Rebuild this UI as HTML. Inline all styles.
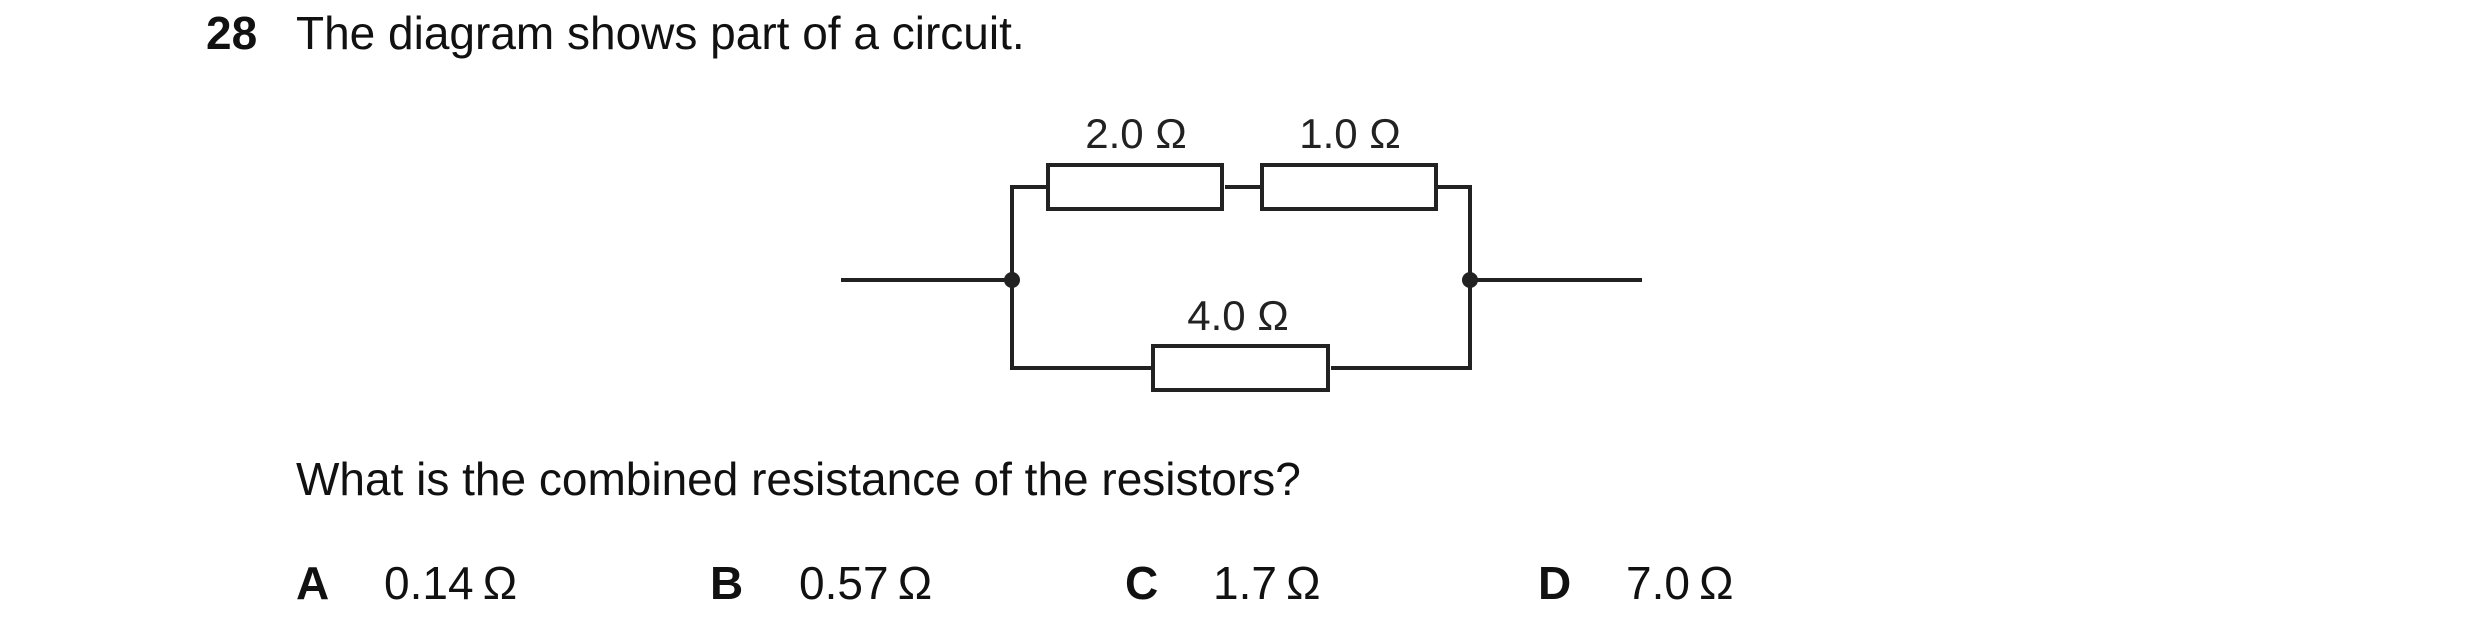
<!DOCTYPE html>
<html><head><meta charset="utf-8"><style>
html,body{margin:0;padding:0;background:#fff;}
body{width:2480px;height:633px;position:relative;overflow:hidden;font-family:"Liberation Sans",Arial,sans-serif;color:#111;}
.t{position:absolute;font-size:46px;line-height:1;white-space:nowrap;}
.b{font-weight:bold;}
svg{position:absolute;left:0;top:0;}
</style></head><body>
<div class="t b" style="left:206px;top:10px;">28</div>
<div class="t" style="left:296px;top:10px;">The diagram shows part of a circuit.</div>
<svg width="2480" height="633" viewBox="0 0 2480 633">
<g stroke="#222" stroke-width="4" fill="none">
<line x1="841" y1="280" x2="1012" y2="280"/>
<line x1="1470" y1="280" x2="1642" y2="280"/>
<polyline points="1048,187 1012,187 1012,368 1153,368"/>
<polyline points="1438,187 1470,187 1470,368 1331,368"/>
<line x1="1225" y1="187" x2="1262" y2="187"/>
<rect x="1048" y="165" width="174" height="44" fill="#fff"/>
<rect x="1262" y="165" width="174" height="44" fill="#fff"/>
<rect x="1153" y="346" width="175" height="44" fill="#fff"/>
</g>
<circle cx="1012" cy="280" r="8" fill="#222"/>
<circle cx="1470" cy="280" r="8" fill="#222"/>
<g font-family="Liberation Sans, Arial, sans-serif" font-size="42" fill="#222" text-anchor="middle">
<text x="1136" y="148">2.0 Ω</text>
<text x="1350" y="148">1.0 Ω</text>
<text x="1238" y="330">4.0 Ω</text>
</g>
</svg>
<div class="t" style="left:296px;top:456px;">What is the combined resistance of the resistors?</div>
<div class="t b" style="left:296px;top:560px;">A</div>
<div class="t" style="left:384px;top:560px;">0.14&#8201;Ω</div>
<div class="t b" style="left:710px;top:560px;">B</div>
<div class="t" style="left:799px;top:560px;">0.57&#8201;Ω</div>
<div class="t b" style="left:1125px;top:560px;">C</div>
<div class="t" style="left:1213px;top:560px;">1.7&#8201;Ω</div>
<div class="t b" style="left:1538px;top:560px;">D</div>
<div class="t" style="left:1626px;top:560px;">7.0&#8201;Ω</div>
</body></html>
